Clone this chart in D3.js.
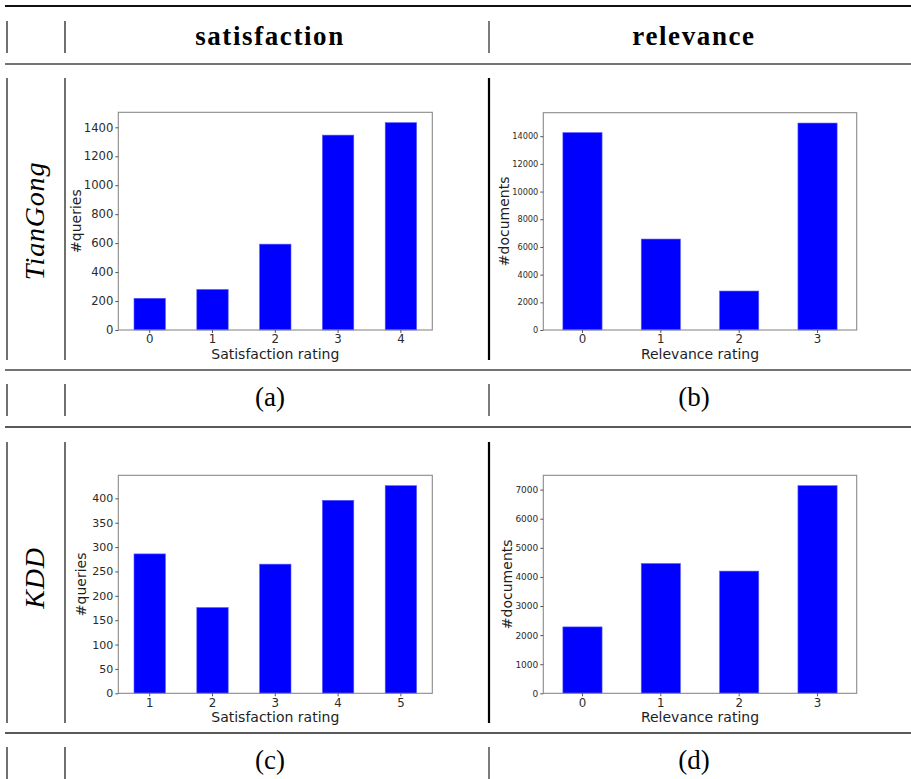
<!DOCTYPE html>
<html>
<head>
<meta charset="utf-8">
<script src="https://cdn.jsdelivr.net/npm/d3@7"></script>
<style>
	body { margin: 0; background: #ffffff; }
	.tick text { fill: #2a2a2a; font-family: "DejaVu Sans", sans-serif; }
	.tick line { stroke: #555555; }
	.axis-label { fill: #1e1e1e; font-family: "DejaVu Sans", sans-serif; font-size: 14px; }
	.tex { font-family: "Liberation Serif", serif; fill: #000000; }
</style>
</head>
<body>
<div id="vis"></div>
<script>
// data
const TG_SAT_CATS = ["0", "1", "2", "3", "4"];
const TG_SAT_VALS = [219, 280, 593, 1346, 1432];
const TG_SAT_TICKS = [0, 200, 400, 600, 800, 1000, 1200, 1400];

const TG_REL_CATS = ["0", "1", "2", "3"];
const TG_REL_VALS = [14260, 6570, 2815, 14950];
const TG_REL_TICKS = [0, 2000, 4000, 6000, 8000, 10000, 12000, 14000];

const KDD_SAT_CATS = ["1", "2", "3", "4", "5"];
const KDD_SAT_VALS = [286, 176, 265, 396, 426];
const KDD_SAT_TICKS = [0, 50, 100, 150, 200, 250, 300, 350, 400];

const KDD_REL_CATS = ["0", "1", "2", "3"];
const KDD_REL_VALS = [2282, 4461, 4200, 7136];
const KDD_REL_TICKS = [0, 1000, 2000, 3000, 4000, 5000, 6000, 7000];

// table text
const COL_HEADS = ["satisfaction", "relevance"];
const ROW_NAMES = ["TianGong", "KDD"];
const CAPTIONS = [["(a)", "(b)"], ["(c)", "(d)"]];

const FRAME_WIDTH = 911;
const FRAME_HEIGHT = 779;

const SVG = d3.select("#vis")
				.append("svg")
					.attr("width", FRAME_WIDTH)
					.attr("height", FRAME_HEIGHT);

// ---- table rules ----
const HRULES = [
	{y: 6, w: 2, c: "#111"},
	{y: 64, w: 1.4, c: "#444"},
	{y: 370, w: 1.4, c: "#444"},
	{y: 427, w: 1.6, c: "#222"},
	{y: 733, w: 1.6, c: "#222"}
];
HRULES.forEach((r) => {
	SVG.append("line")
		.attr("x1", 5).attr("x2", FRAME_WIDTH)
		.attr("y1", r.y).attr("y2", r.y)
		.attr("stroke", r.c).attr("stroke-width", r.w);
});

// vertical bars of each row: [top, bottom, isPlotRow]
const ROW_SPANS = [[21, 53, false], [78, 360, true], [384, 416, false],
					[442, 723, true], [747, 779, false]];
ROW_SPANS.forEach((s) => {
	[7, 65].forEach((x) => {
		SVG.append("line")
			.attr("x1", x).attr("x2", x)
			.attr("y1", s[0]).attr("y2", s[1])
			.attr("stroke", "#333").attr("stroke-width", 1.4);
	});
	SVG.append("line")
		.attr("x1", 489).attr("x2", 489)
		.attr("y1", s[0]).attr("y2", s[1])
		.attr("stroke", s[2] ? "#000" : "#444")
		.attr("stroke-width", s[2] ? 2.2 : 1.4);
});

const COL_CENTERS = [270, 694];

// column headers
COL_HEADS.forEach((t, i) => {
	SVG.append("text")
		.attr("class", "tex")
		.attr("x", COL_CENTERS[i])
		.attr("y", 45)
		.attr("text-anchor", "middle")
		.attr("font-size", 27)
		.attr("font-weight", "bold")
		.attr("letter-spacing", 1.6)
		.text(t);
});

// row names, rotated
const ROW_CENTERS = [221, 578];
ROW_NAMES.forEach((t, i) => {
	SVG.append("text")
		.attr("class", "tex")
		.attr("transform", "translate(35," + ROW_CENTERS[i] + ") rotate(-90)")
		.attr("text-anchor", "middle")
		.attr("dy", "0.33em")
		.attr("font-size", 28)
		.attr("font-style", "italic")
		.attr("letter-spacing", 0.8)
		.text(t);
});

// captions
const CAPTION_BASE = [406, 769];
CAPTIONS.forEach((row, r) => {
	row.forEach((t, c) => {
		SVG.append("text")
			.attr("class", "tex")
			.attr("x", COL_CENTERS[c])
			.attr("y", CAPTION_BASE[r])
			.attr("text-anchor", "middle")
			.attr("font-size", 27)
			.text(t);
	});
});

// ---- one bar chart ----
function barChart(cfg) {
	const W = cfg.x1 - cfg.x0;
	const H = cfg.y1 - cfg.y0;

	const G = SVG.append("g")
				.attr("transform", "translate(" + cfg.x0 + "," + cfg.y0 + ")");

	const X_SCALE = d3.scaleBand()
						.domain(cfg.cats)
						.range([0, W])
						.paddingInner(0.5)
						.paddingOuter(0.25);

	const Y_SCALE = d3.scaleLinear()
						.domain([0, d3.max(cfg.vals) * 1.05])
						.range([H, 0]);

	G.selectAll("bars")
		.data(cfg.vals)
		.enter()
		.append("rect")
			.attr("x", (d, i) => { return X_SCALE(cfg.cats[i]); })
			.attr("y", (d) => { return Y_SCALE(d); })
			.attr("width", X_SCALE.bandwidth())
			.attr("height", (d) => { return H - Y_SCALE(d); })
			.attr("fill", "#0000ff")
			.attr("stroke", "#5a5aff")
			.attr("stroke-width", 0.6);

	// spines
	G.append("rect")
		.attr("x", 0).attr("y", 0)
		.attr("width", W).attr("height", H)
		.attr("fill", "none")
		.attr("stroke", "#8a8a8a")
		.attr("stroke-width", 1.1);

	const yAxis = G.append("g")
		.call(d3.axisLeft(Y_SCALE)
				.tickValues(cfg.ticks)
				.tickFormat(d3.format("d"))
				.tickSize(3)
				.tickPadding(2));
	yAxis.select(".domain").remove();
	yAxis.selectAll("text").attr("font-size", cfg.yFont);

	const xAxis = G.append("g")
		.attr("transform", "translate(0," + H + ")")
		.call(d3.axisBottom(X_SCALE)
				.tickSize(3)
				.tickPadding(2));
	xAxis.select(".domain").remove();
	xAxis.selectAll("text").attr("font-size", cfg.xFont);

	G.append("text")
		.attr("class", "axis-label")
		.attr("x", W / 2)
		.attr("y", H + cfg.xLabelOff)
		.attr("text-anchor", "middle")
		.text(cfg.xLabel);

	G.append("text")
		.attr("class", "axis-label")
		.attr("transform", "translate(" + cfg.yLabelOff + "," + (H / 2) + ") rotate(-90)")
		.attr("text-anchor", "middle")
		.attr("dy", "0.35em")
		.text(cfg.yLabel);
}

barChart({x0: 118.3, x1: 432.3, y0: 112.3, y1: 330,
			cats: TG_SAT_CATS, vals: TG_SAT_VALS, ticks: TG_SAT_TICKS,
			yFont: 11.6, xFont: 11.8, xLabel: "Satisfaction rating", xLabelOff: 29,
			yLabel: "#queries", yLabelOff: -42});

barChart({x0: 543.3, x1: 856.7, y0: 112.7, y1: 330,
			cats: TG_REL_CATS, vals: TG_REL_VALS, ticks: TG_REL_TICKS,
			yFont: 8.2, xFont: 11.8, xLabel: "Relevance rating", xLabelOff: 29,
			yLabel: "#documents", yLabelOff: -39});

barChart({x0: 118.3, x1: 432.3, y0: 475.3, y1: 693.3,
			cats: KDD_SAT_CATS, vals: KDD_SAT_VALS, ticks: KDD_SAT_TICKS,
			yFont: 11, xFont: 11.8, xLabel: "Satisfaction rating", xLabelOff: 28.5,
			yLabel: "#queries", yLabelOff: -37.5});

barChart({x0: 543.3, x1: 856.7, y0: 475.3, y1: 693.3,
			cats: KDD_REL_CATS, vals: KDD_REL_VALS, ticks: KDD_REL_TICKS,
			yFont: 9, xFont: 11.8, xLabel: "Relevance rating", xLabelOff: 28.5,
			yLabel: "#documents", yLabelOff: -36});
</script>
</body>
</html>
